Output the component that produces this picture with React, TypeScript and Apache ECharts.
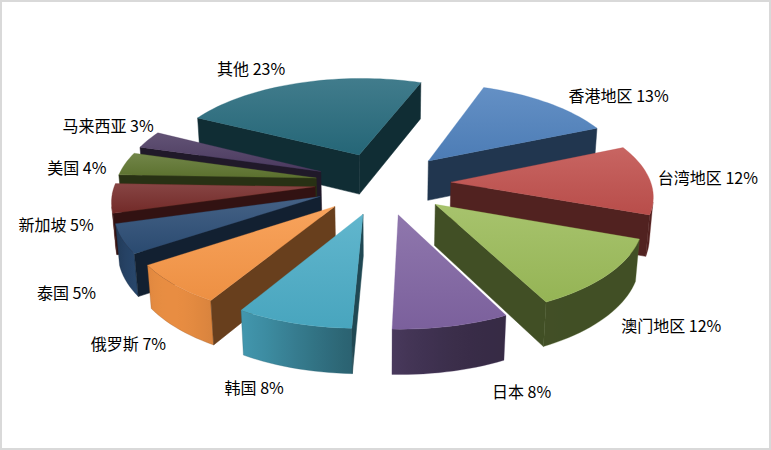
import React, { useEffect, useRef } from "react";
import * as echarts from "echarts";

// data, clockwise from the first slice
const categories = ["香港地区", "台湾地区", "澳门地区", "日本", "韩国", "俄罗斯", "泰国", "新加坡", "美国", "马来西亚", "其他"];
const shares = [13, 12, 12, 8, 8, 7, 5, 5, 4, 3, 23];
const colors = ["#4F81BD", "#C0504D", "#9BBB59", "#8064A2", "#4BACC6", "#F79646", "#2C4D75", "#772C2A", "#5F7530", "#4D3B62", "#276A7C"];
// small label nudges (px) like excel's own label placement
const labelNudge = [[43, -12], [7, -22], [14, 7], [54, 6], [-18, 6], [1, 12], [-1, 19], [-2, 2], [0, -13], [2, -26], [-33, -16]];

// 3d view settings (pie radius = 1)
const CX = 383;
const CY = 183;
const SCALE = 200;
const TILT = (27.4 * Math.PI) / 180;
const DIST = 7.34;
const EXPLODE = 0.34;
const THICK = 0.23;
const FIRST_ANGLE = -70;
const DEG = Math.PI / 180;

const total = shares.reduce((a, b) => a + b, 0);
const startAngles = shares.map((_, i) => FIRST_ANGLE + (shares.slice(0, i).reduce((a, b) => a + b, 0) / total) * 360);
const midAngles = shares.map((v, i) => (startAngles[i] + ((v / total) * 360) / 2) * DEG);
// back slices are painted first
const depthRank = (() => {
  const order = midAngles.map((a, i) => i).sort((a, b) => Math.sin(midAngles[a]) - Math.sin(midAngles[b]));
  const rank: number[] = [];
  order.forEach((idx, r) => (rank[idx] = r));
  return rank;
})();

function project(X: number, Y: number, H: number): number[] {
  const z = 1 - (Y * Math.cos(TILT) + H * Math.sin(TILT)) / DIST;
  return [CX + (SCALE * X) / z, CY + (SCALE * (Y * Math.sin(TILT) - H * Math.cos(TILT))) / z];
}

function shade(hex: string, f: number) {
  const n = parseInt(hex.slice(1), 16);
  const c = [(n >> 16) & 255, (n >> 8) & 255, n & 255].map((v) => Math.max(0, Math.min(255, Math.round(f >= 1 ? v + (255 - v) * (f - 1) : v * f))));
  return `rgb(${c[0]},${c[1]},${c[2]})`;
}

function wallLight(t: number) {
  const c = Math.max(0, Math.cos(t - 135 * DEG));
  return 0.42 + 0.52 * Math.pow(c, 4);
}

const App: React.FC = () => {
  const chartRef = useRef<HTMLDivElement>(null);

  useEffect(() => {
    document.body.style.margin = "0";
    if (!chartRef.current) return;
    const myChart = echarts.init(chartRef.current, null, { renderer: "svg" });

    const camY = DIST * Math.cos(TILT);

    const renderItem = (params: any, api: any) => {
      const i = params.dataIndex;
      const value = api.value(0);
      const a0 = startAngles[i] * DEG;
      const a1 = a0 + (value / total) * Math.PI * 2;
      const am = (a0 + a1) / 2;
      const ox = EXPLODE * Math.cos(am);
      const oy = EXPLODE * Math.sin(am);
      const base = colors[i];
      const zb = depthRank[i] * 10;
      const children: any[] = [];

      const steps = Math.max(6, Math.ceil((a1 - a0) / (2 * DEG)));
      const ts: number[] = [];
      for (let k = 0; k <= steps; k++) ts.push(a0 + ((a1 - a0) * k) / steps);

      // outer wall
      const vis = ts.filter((t) => camY * Math.sin(t) - (ox * Math.cos(t) + oy * Math.sin(t) + 1) > 0);
      if (vis.length > 1) {
        const topPts = vis.map((t) => project(ox + Math.cos(t), oy + Math.sin(t), 0));
        const botPts = vis.map((t) => project(ox + Math.cos(t), oy + Math.sin(t), -THICK));
        const xs = topPts.map((p) => p[0]);
        const minX = Math.min(...xs);
        const maxX = Math.max(...xs);
        const stops = vis
          .map((t, k) => ({ offset: maxX > minX ? (topPts[k][0] - minX) / (maxX - minX) : 0, color: shade(base, wallLight(t)) }))
          .sort((p, q) => p.offset - q.offset);
        children.push({
          type: "polygon",
          z2: zb + 1,
          shape: { points: topPts.concat(botPts.reverse()) },
          style: {
            fill: new echarts.graphic.LinearGradient(minX, 0, maxX, 0, stops, true),
            stroke: shade(base, 0.6),
            lineWidth: 0.3,
          },
        });
      }

      // radial faces
      const radial = (t: number, nx: number, ny: number) => {
        if (nx * -ox + ny * (camY - oy) <= 0) return;
        children.push({
          type: "polygon",
          z2: zb + 1,
          shape: {
            points: [
              project(ox, oy, 0),
              project(ox + Math.cos(t), oy + Math.sin(t), 0),
              project(ox + Math.cos(t), oy + Math.sin(t), -THICK),
              project(ox, oy, -THICK),
            ],
          },
          style: { fill: shade(base, 0.42), stroke: shade(base, 0.42), lineWidth: 0.5 },
        });
      };
      radial(a0, Math.sin(a0), -Math.cos(a0));
      radial(a1, -Math.sin(a1), Math.cos(a1));

      // top face
      const top = [project(ox, oy, 0)].concat(ts.map((t) => project(ox + Math.cos(t), oy + Math.sin(t), 0)));
      children.push({
        type: "polygon",
        z2: zb + 2,
        shape: { points: top },
        style: {
          fill: new echarts.graphic.LinearGradient(0, 0, 0, 1, [
            { offset: 0, color: shade(base, 1.12) },
            { offset: 1, color: shade(base, 0.96) },
          ]),
          stroke: shade(base, 1.0),
          lineWidth: 0.3,
        },
      });

      // label
      const lr = 1 + EXPLODE + 0.27;
      const lp = project(lr * Math.cos(am), lr * Math.sin(am), -THICK / 2);
      children.push({
        type: "text",
        z2: 500,
        x: lp[0] + labelNudge[i][0],
        y: lp[1] + labelNudge[i][1],
        style: {
          text: `${categories[i]} ${value}%`,
          fill: "#000",
          font: "16px 'Noto Sans CJK SC', sans-serif",
          align: "center",
          verticalAlign: "middle",
        },
      });

      return { type: "group", children };
    };

    myChart.setOption({
      animation: false,
      backgroundColor: "#fff",
      graphic: [
        {
          type: "rect",
          shape: { x: 1, y: 1, width: 769, height: 448 },
          style: { fill: "none", stroke: "#d9d9d9", lineWidth: 2 },
          z: 10,
        },
      ],
      series: [
        {
          type: "custom",
          coordinateSystem: "none",
          data: shares.map((v, i) => ({ name: categories[i], value: v })),
          renderItem,
        },
      ],
    });

    return () => {
      myChart.dispose();
    };
  }, []);

  return <div ref={chartRef} style={{ width: "771px", height: "450px" }} />;
};

export default App;
